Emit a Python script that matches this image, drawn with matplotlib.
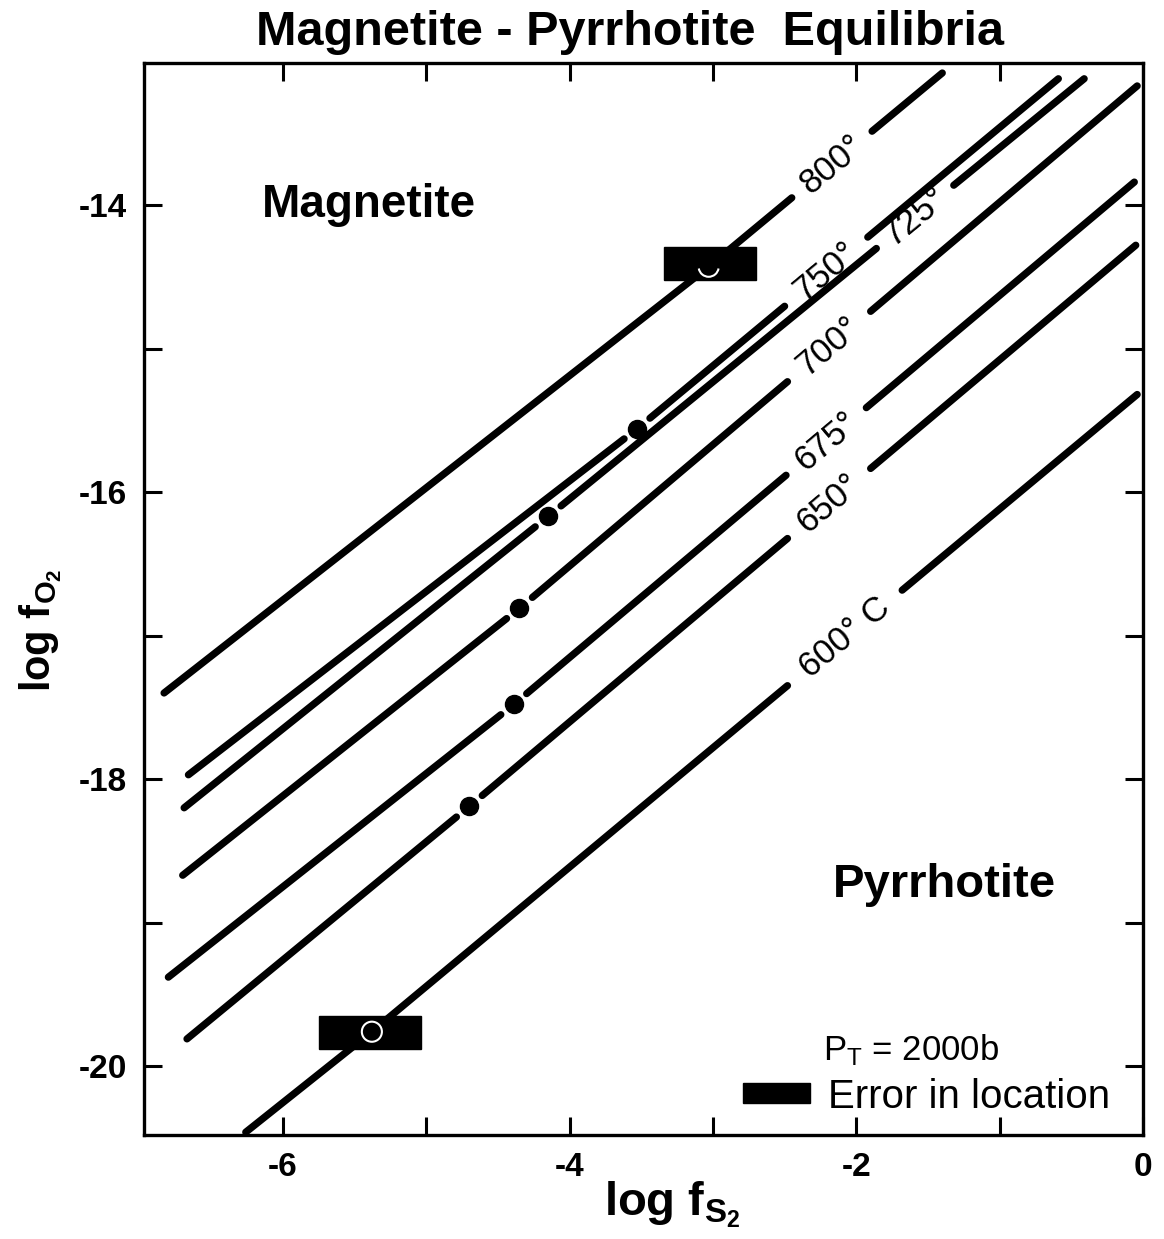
import numpy as np
import matplotlib
matplotlib.use("Agg")
import matplotlib.pyplot as plt
from matplotlib.patches import Rectangle, Arc, Circle
from matplotlib.ticker import MultipleLocator

plt.rcParams["font.family"] = ["Liberation Sans", "DejaVu Sans"]
plt.rcParams["axes.unicode_minus"] = False
plt.rcParams["mathtext.fontset"] = "custom"
plt.rcParams["mathtext.rm"] = "Liberation Sans:bold"
plt.rcParams["mathtext.it"] = "Liberation Sans:bold"
plt.rcParams["mathtext.bf"] = "Liberation Sans:bold"

# isotherms (log fS2, log fO2): start, middle point, end
temps = ["800°", "750°", "725°", "700°", "675°", "650°", "600° C"]
iso_x = [
    [-6.83, -3.03, -1.40],
    [-6.66, -3.53, -0.59],
    [-6.69, -4.15, -0.41],
    [-6.70, -4.35, -0.04],
    [-6.80, -4.39, -0.06],
    [-6.67, -4.70, -0.05],
    [-6.26, -5.38, -0.04],
]
iso_y = [
    [-17.40, -14.43, -13.08],
    [-17.97, -15.56, -13.12],
    [-18.20, -16.17, -13.12],
    [-18.67, -16.81, -13.17],
    [-19.38, -17.48, -13.84],
    [-19.81, -18.19, -14.28],
    [-20.46, -19.76, -15.32],
]
label_x = [-2.17, -2.21, -1.59, -2.19, -2.21, -2.19, -2.08]
label_gap = [0.28, 0.29, 0.27, 0.29, 0.28, 0.29, 0.40]

# experimental points (filled dots) on the isotherms
dot_x = [-3.53, -4.15, -4.35, -4.39, -4.70]
dot_y = [-15.56, -16.17, -16.81, -17.48, -18.19]
dot_line = [1, 2, 3, 4, 5]

# error boxes: x range, y range, open circle
box_x = [(-3.34, -2.70), (-5.75, -5.04)]
box_y = [(-14.52, -14.29), (-19.88, -19.65)]
circ_x = [-3.03, -5.38]
circ_y = [-14.43, -19.76]

fig = plt.figure(figsize=(11.64, 12.39), dpi=100)
ax = fig.add_axes([0.1237, 0.0839, 0.8582, 0.8653])
ax.set_xlim(-6.97, 0)
ax.set_ylim(-20.48, -13.01)

for s in ax.spines.values():
    s.set_linewidth(2.4)
ax.xaxis.set_major_locator(MultipleLocator(1))
ax.yaxis.set_major_locator(MultipleLocator(1))
ax.tick_params(direction="in", length=13, width=2.2, top=True, right=True,
               labelsize=24, pad=12)
xt = ax.get_xticks()
ax.set_xticks(xt)
ax.set_xticklabels(["%d" % t if t % 2 == 0 else "" for t in xt], fontweight="bold")
yt = ax.get_yticks()
ax.set_yticks(yt)
ax.set_yticklabels(["%d" % t if t % 2 == 0 else "" for t in yt], fontweight="bold")
ax.set_xlim(-6.97, 0)
ax.set_ylim(-20.48, -13.01)

lw = 5.2

dot_on = {}
for k, i in enumerate(dot_line):
    dot_on[i] = dot_x[k]

for i, t in enumerate(temps):
    xs = np.array(iso_x[i])
    ys = np.array(iso_y[i])
    cuts = [(label_x[i], label_gap[i])]
    if i in dot_on:
        cuts.append((dot_on[i], 0.09))
    cuts.sort()
    edges = [xs[0]]
    for c, h in cuts:
        edges += [c - h, c + h]
    edges.append(xs[-1])
    for a, b in zip(edges[0::2], edges[1::2]):
        sx = [a] + [x for x in xs if a < x < b] + [b]
        sy = np.interp(sx, xs, ys)
        ax.plot(sx, sy, color="black", lw=lw, solid_capstyle="round", zorder=2)

    # label rotated along the line
    lx = label_x[i]
    ly = np.interp(lx, xs, ys)
    p1 = ax.transData.transform((lx - 0.3, np.interp(lx - 0.3, xs, ys)))
    p2 = ax.transData.transform((lx + 0.3, np.interp(lx + 0.3, xs, ys)))
    ang = np.degrees(np.arctan2(p2[1] - p1[1], p2[0] - p1[0]))
    ax.text(lx, ly, t, rotation=ang, rotation_mode="anchor", ha="center",
            va="center", fontsize=25, zorder=3)

ax.plot(dot_x, dot_y, "o", color="black", ms=13, zorder=4)

for k in range(2):
    ax.add_patch(Rectangle((box_x[k][0], box_y[k][0]), box_x[k][1] - box_x[k][0],
                           box_y[k][1] - box_y[k][0], facecolor="black",
                           edgecolor="black", zorder=5))
ax.add_patch(Arc((circ_x[0], circ_y[0]), 0.14, 0.14, theta1=190, theta2=350,
                 color="white", lw=1.5, zorder=6))
ax.add_patch(Circle((circ_x[1], circ_y[1]), 0.07, facecolor="none",
                    edgecolor="white", lw=1.5, zorder=6))

ax.text(-6.15, -14.08, "Magnetite", fontsize=33, fontweight="bold")
ax.text(-2.16, -18.82, "Pyrrhotite", fontsize=34, fontweight="bold")
ax.text(-2.23, -19.96, "P$_\\mathregular{T}$ = 2000b", fontsize=25)
ax.add_patch(Rectangle((-2.79, -20.26), 0.47, 0.14, facecolor="black",
                       edgecolor="black", zorder=5))
ax.text(-2.20, -20.29, "Error in location", fontsize=29)

fig.text(0.541, 0.974, "Magnetite - Pyrrhotite  Equilibria", ha="center",
         va="center", fontsize=35, fontweight="bold")
fig.text(0.577, 0.028, "log f$_{S_2}$", ha="center", va="center", fontsize=34,
         fontweight="bold")
fig.text(0.035, 0.491, "log f$_{O_2}$", ha="center", va="center", fontsize=30,
         fontweight="bold", rotation=90)

fig.savefig("out.png", dpi=100)
